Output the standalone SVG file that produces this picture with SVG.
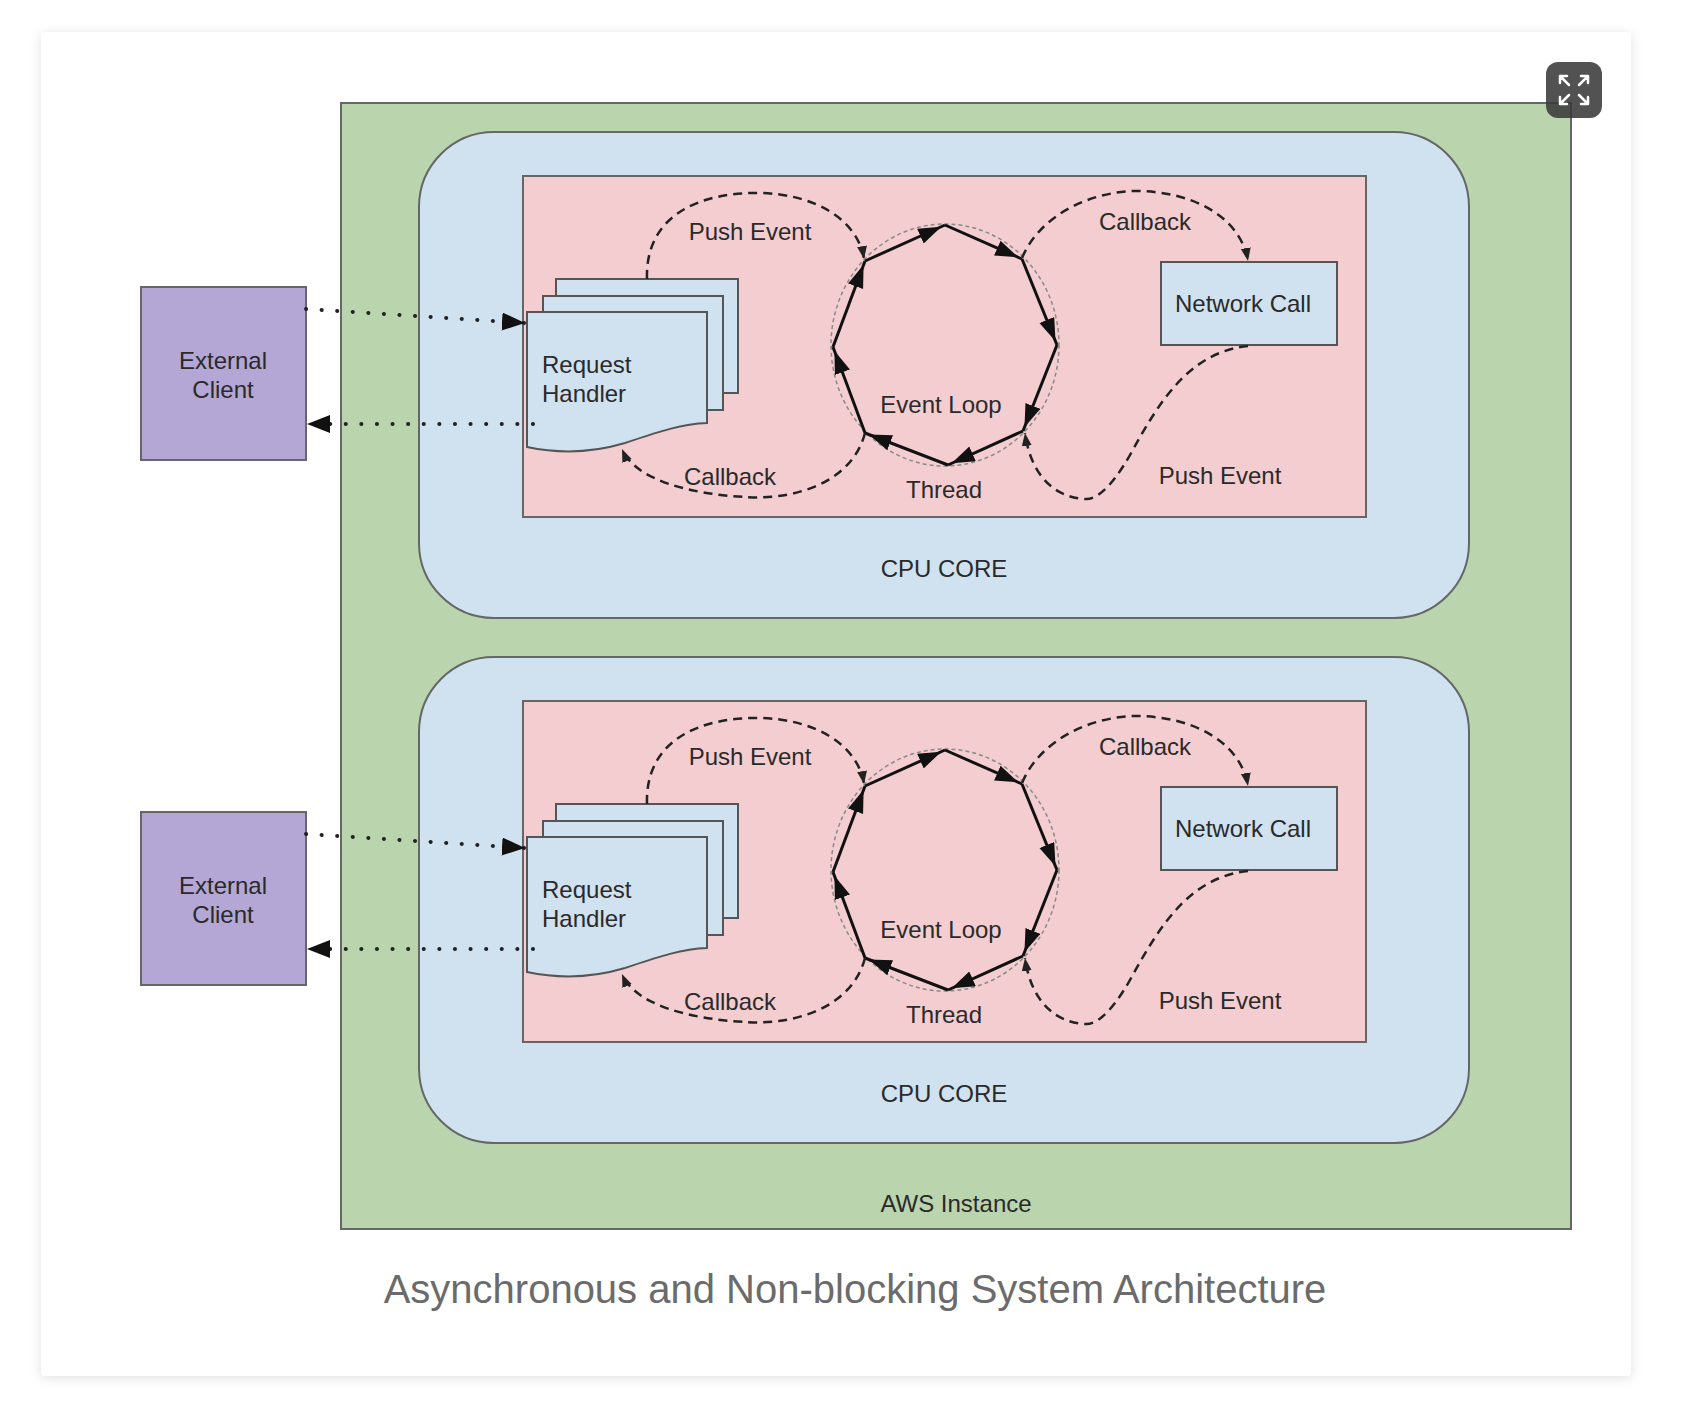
<svg xmlns="http://www.w3.org/2000/svg" width="1686" height="1414" viewBox="0 0 1686 1414">
<defs>
  <filter id="shadow" x="-5%" y="-5%" width="110%" height="110%">
    <feDropShadow dx="0" dy="2" stdDeviation="6" flood-color="#000" flood-opacity="0.12"/>
  </filter>
  <marker id="loopArrow" markerUnits="userSpaceOnUse" markerWidth="30" markerHeight="18" refX="27" refY="8" orient="auto">
    <path d="M0,0 L23,8 L0,16 z" fill="#111"/>
  </marker>
  <marker id="dashArrow" markerUnits="userSpaceOnUse" markerWidth="16" markerHeight="12" refX="13" refY="5" orient="auto">
    <path d="M0,0 L13,5 L0,10 z" fill="#222"/>
  </marker>
  <marker id="dotArrow" markerUnits="userSpaceOnUse" markerWidth="26" markerHeight="20" refX="23" refY="9" orient="auto">
    <path d="M0,0 L23,9 L0,18 z" fill="#111"/>
  </marker>
</defs>
<style>
  text { font-family: "Liberation Sans", Arial, sans-serif; font-size: 24px; fill: #2a2a2a; }
  .c { text-anchor: middle; }
  .box { stroke: #666; stroke-width: 2; }
  .green { fill: #bad4ae; }
  .blue { fill: #d0e1f0; }
  .pink { fill: #f3cdd0; }
  .purple { fill: #b4a7d5; }
  .sheet { fill: #d0e1f0; stroke: #555; stroke-width: 2; }
  .loop { stroke: #111; stroke-width: 3; fill: none; marker-end: url(#loopArrow); }
  .ring { fill: none; stroke: #8a8a8a; stroke-width: 1.5; stroke-dasharray: 4 3; }
  .dash { fill: none; stroke: #222; stroke-width: 2.5; stroke-dasharray: 9 6; marker-end: url(#dashArrow); }
  .dot { fill: none; stroke: #222; stroke-width: 4; stroke-linecap: round; stroke-dasharray: 0.1 15.5; marker-end: url(#dotArrow); }
  .caption { font-size: 40px; fill: #6b6b6b; }
</style>

<rect x="0" y="0" width="1686" height="1414" fill="#ffffff"/>
<rect x="41" y="32" width="1590" height="1344" rx="4" fill="#ffffff" filter="url(#shadow)"/>

<g id="aws-instance">
  <rect class="box green" x="341" y="103" width="1230" height="1126"/>
  <text class="c" x="956" y="1212">AWS Instance</text>
</g>

<!-- Panel 1 -->
<g id="cpu-core-1">
  <rect class="box blue" x="419" y="132" width="1050" height="486" rx="75"/>
  <text class="c" x="944" y="577">CPU CORE</text>
</g>
<g id="thread-1">
  <rect class="box pink" x="523" y="176" width="843" height="341"/>
  <text class="c" x="944" y="498">Thread</text>
</g>
<g id="external-client-1">
  <rect class="box purple" x="141" y="287" width="165" height="173"/>
  <text class="c" x="223" y="369">External</text>
  <text class="c" x="223" y="398">Client</text>
</g>
<g id="request-handler-1">
  <rect class="sheet" x="556" y="279" width="182" height="114"/>
  <rect class="sheet" x="543" y="296" width="180" height="114"/>
  <path class="sheet" d="M527,312 H707 V423 C680,424 655,433 625,443 C595,452 560,454 527,447 Z"/>
  <text x="542" y="373">Request</text>
  <text x="542" y="402">Handler</text>
</g>
<g id="event-loop-1">
  <ellipse class="ring" cx="945" cy="345" rx="114" ry="121"/>
  <text class="c" x="941" y="413">Event Loop</text>
</g>
<g id="network-call-1">
  <rect class="sheet" x="1161" y="262" width="176" height="83"/>
  <text class="c" x="1243" y="312">Network Call</text>
</g>
<g id="connectors-1">
  <path class="loop" d="M865,261 L945,225"/>
  <path class="loop" d="M945,225 L1022,259"/>
  <path class="loop" d="M1022,259 L1057,345"/>
  <path class="loop" d="M1057,345 L1023,431"/>
  <path class="loop" d="M1023,431 L948,465"/>
  <path class="loop" d="M948,465 L865,433"/>
  <path class="loop" d="M865,433 L833,347"/>
  <path class="loop" d="M833,347 L865,261"/>
  <path class="dash" d="M647,279 C645,215 700,192 760,193 C815,194 858,220 864,259"/>
  <path class="dash" d="M865,433 C850,490 780,500 745,497 C690,494 635,480 622,449"/>
  <path class="dash" d="M1022,258 C1040,215 1090,192 1135,191 C1190,191 1240,215 1248,261"/>
  <path class="dash" d="M1248,346 C1190,352 1160,400 1130,455 C1110,490 1095,500 1085,499 C1050,497 1030,470 1025,433"/>
  <path class="dot" d="M306,309 L525,323"/>
  <path class="dot" d="M533,424 L307,424"/>
  <text class="c" x="750" y="240">Push Event</text>
  <text class="c" x="730" y="485">Callback</text>
  <text class="c" x="1145" y="230">Callback</text>
  <text class="c" x="1220" y="484">Push Event</text>
</g>

<!-- Panel 2 -->
<g transform="translate(0,525)">
<g id="cpu-core-2">
  <rect class="box blue" x="419" y="132" width="1050" height="486" rx="75"/>
  <text class="c" x="944" y="577">CPU CORE</text>
</g>
<g id="thread-2">
  <rect class="box pink" x="523" y="176" width="843" height="341"/>
  <text class="c" x="944" y="498">Thread</text>
</g>
<g id="external-client-2">
  <rect class="box purple" x="141" y="287" width="165" height="173"/>
  <text class="c" x="223" y="369">External</text>
  <text class="c" x="223" y="398">Client</text>
</g>
<g id="request-handler-2">
  <rect class="sheet" x="556" y="279" width="182" height="114"/>
  <rect class="sheet" x="543" y="296" width="180" height="114"/>
  <path class="sheet" d="M527,312 H707 V423 C680,424 655,433 625,443 C595,452 560,454 527,447 Z"/>
  <text x="542" y="373">Request</text>
  <text x="542" y="402">Handler</text>
</g>
<g id="event-loop-2">
  <ellipse class="ring" cx="945" cy="345" rx="114" ry="121"/>
  <text class="c" x="941" y="413">Event Loop</text>
</g>
<g id="network-call-2">
  <rect class="sheet" x="1161" y="262" width="176" height="83"/>
  <text class="c" x="1243" y="312">Network Call</text>
</g>
<g id="connectors-2">
  <path class="loop" d="M865,261 L945,225"/>
  <path class="loop" d="M945,225 L1022,259"/>
  <path class="loop" d="M1022,259 L1057,345"/>
  <path class="loop" d="M1057,345 L1023,431"/>
  <path class="loop" d="M1023,431 L948,465"/>
  <path class="loop" d="M948,465 L865,433"/>
  <path class="loop" d="M865,433 L833,347"/>
  <path class="loop" d="M833,347 L865,261"/>
  <path class="dash" d="M647,279 C645,215 700,192 760,193 C815,194 858,220 864,259"/>
  <path class="dash" d="M865,433 C850,490 780,500 745,497 C690,494 635,480 622,449"/>
  <path class="dash" d="M1022,258 C1040,215 1090,192 1135,191 C1190,191 1240,215 1248,261"/>
  <path class="dash" d="M1248,346 C1190,352 1160,400 1130,455 C1110,490 1095,500 1085,499 C1050,497 1030,470 1025,433"/>
  <path class="dot" d="M306,309 L525,323"/>
  <path class="dot" d="M533,424 L307,424"/>
  <text class="c" x="750" y="240">Push Event</text>
  <text class="c" x="730" y="485">Callback</text>
  <text class="c" x="1145" y="230">Callback</text>
  <text class="c" x="1220" y="484">Push Event</text>
</g>
</g>

<text class="c caption" x="855" y="1303">Asynchronous and Non-blocking System Architecture</text>

<g id="expand-button">
  <rect x="1546" y="62" width="56" height="56" rx="12" fill="#3a3a3a" fill-opacity="0.88"/>
  <g stroke="#ffffff" stroke-width="2.5" fill="none" stroke-linecap="round" stroke-linejoin="round">
    <path d="M1569,85 L1560,76 M1560,83 L1560,76 L1567,76"/>
    <path d="M1579,85 L1588,76 M1581,76 L1588,76 L1588,83"/>
    <path d="M1569,95 L1560,104 M1560,97 L1560,104 L1567,104"/>
    <path d="M1579,95 L1588,104 M1588,97 L1588,104 L1581,104"/>
  </g>
</g>
</svg>
